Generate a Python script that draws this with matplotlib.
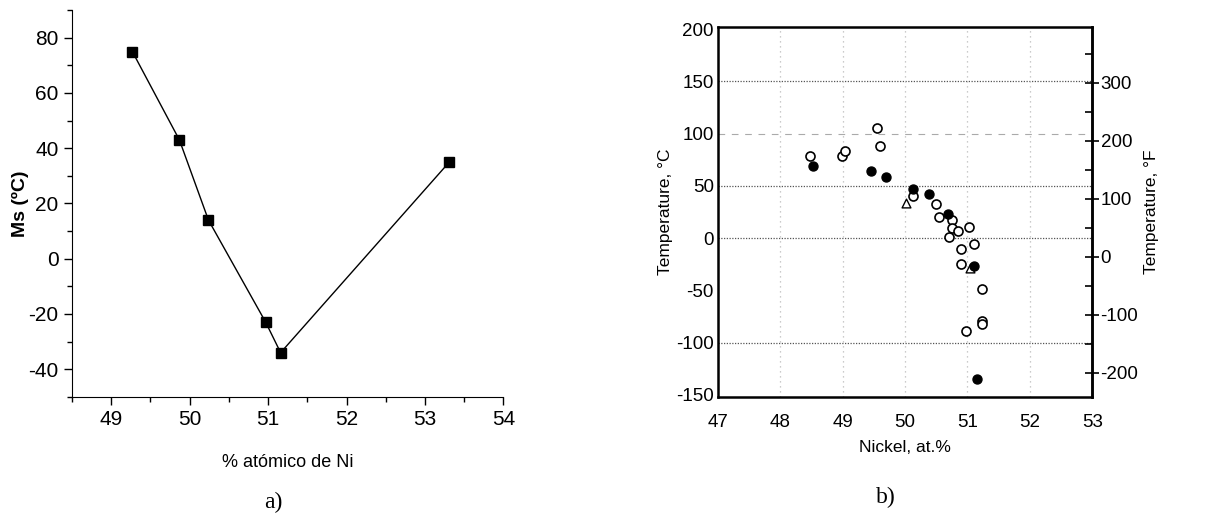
import numpy as np
import matplotlib.pyplot as plt
from matplotlib.ticker import MultipleLocator

plt.rcParams['font.family'] = ['Liberation Sans', 'DejaVu Sans']
plt.rcParams['axes.unicode_minus'] = False

# a) Ms vs % atomico de Ni
ni_a = [49.27, 49.87, 50.24, 50.97, 51.16, 53.31]
ms_a = [75, 43, 14, -23, -34, 35]

# b) Temperature vs Nickel at.%
open_x = [48.48, 48.99, 49.04, 49.55, 49.60, 50.12, 50.49, 50.54, 50.75, 50.75,
          50.84, 50.71, 51.02, 51.11, 50.89, 50.89, 51.24, 51.24, 51.24, 50.98]
open_y = [78.8, 78.2, 83.6, 105.1, 88.6, 40.4, 33.0, 20.4, 17.2, 10.0,
          6.8, 1.5, 10.6, -5.9, -10.6, -24.6, -48.6, -79.2, -82.4, -88.7]
fill_x = [48.52, 49.46, 49.70, 50.12, 50.38, 50.68, 51.10, 51.16]
fill_y = [68.8, 64.0, 58.9, 47.2, 42.5, 23.5, -27.1, -134.9]
tri_x = [50.01, 51.04]
tri_y = [33.7, -28.6]

fig = plt.figure(figsize=(12.19, 5.32), dpi=100)

# ---- panel a ----
ax1 = fig.add_axes([0.059, 0.254, 0.354, 0.727])
ax1.plot(ni_a, ms_a, color='black', lw=1.0, marker='s', ms=6.5,
         markerfacecolor='black')
ax1.set_xlim(48.5, 54)
ax1.set_ylim(-50, 90)
ax1.xaxis.set_major_locator(MultipleLocator(1))
ax1.xaxis.set_minor_locator(MultipleLocator(0.5))
ax1.yaxis.set_major_locator(MultipleLocator(20))
ax1.yaxis.set_minor_locator(MultipleLocator(10))
ax1.spines['top'].set_visible(False)
ax1.spines['right'].set_visible(False)
ax1.tick_params(which='major', length=6, width=1, labelsize=15)
ax1.tick_params(which='minor', length=3.5, width=1)
ax1.set_yticks([-40, -20, 0, 20, 40, 60, 80])
ax1.set_xlabel('% atómico de Ni', fontsize=13, labelpad=18)
ax1.set_ylabel('Ms (ºC)', fontsize=14, fontweight='bold')
ax1.yaxis.set_label_coords(-0.1, 0.5)
fig.text(0.224, 0.045, 'a)', fontsize=17, family='Liberation Serif', ha='center')

# ---- panel b ----
ax2 = fig.add_axes([0.589, 0.254, 0.307, 0.695])
ax2.set_xlim(47, 53)
ax2.set_ylim(-152, 202)
for yv in [150, 50, 0, -100]:
    ax2.axhline(yv, color='#555555', ls=(0, (1, 1.2)), lw=0.9, zorder=0)
ax2.axhline(100, color='#aaaaaa', ls=(0, (6, 6)), lw=0.8, zorder=0)
for xv in [48, 49, 50, 51, 52]:
    ax2.axvline(xv, color='#bbbbbb', ls=(0, (1, 3)), lw=0.9, zorder=0)
ax2.scatter(open_x, open_y, s=42, facecolors='white', edgecolors='black',
            linewidths=1.2, zorder=3)
ax2.scatter(fill_x, fill_y, s=42, color='black', zorder=4)
ax2.scatter(tri_x, tri_y, s=40, marker='^', facecolors='white',
            edgecolors='black', linewidths=1.0, zorder=3)
ax2.set_xticks(np.arange(47, 54, 1))
ax2.set_yticks(np.arange(-150, 201, 50))
for s in ax2.spines.values():
    s.set_linewidth(1.8)
ax2.tick_params(direction='in', length=0, labelsize=13.5, pad=3)
ax2.tick_params(axis='x', pad=12)
ax2.set_xlabel('Nickel, at.%', fontsize=12.5, labelpad=7)
ax2.set_ylabel('Temperature, °C', fontsize=12.5, labelpad=2)

def c2f(c):
    return c * 9 / 5 + 32

def f2c(f):
    return (f - 32) * 5 / 9

ax3 = ax2.secondary_yaxis('right', functions=(c2f, f2c))
ax3.set_yticks([-200, -100, 0, 100, 200, 300])
ax3.yaxis.set_minor_locator(MultipleLocator(50))
ax3.tick_params(which='major', direction='inout', length=10, width=1.2,
                labelsize=13.5, pad=1)
ax3.tick_params(which='minor', direction='in', length=5, width=1.2)
ax3.spines['right'].set_linewidth(1.8)
ax3.set_ylabel('Temperature, °F', fontsize=12.5, labelpad=4)
fig.text(0.727, 0.055, 'b)', fontsize=17, family='Liberation Serif', ha='center')

fig.savefig('out.png', dpi=100)
